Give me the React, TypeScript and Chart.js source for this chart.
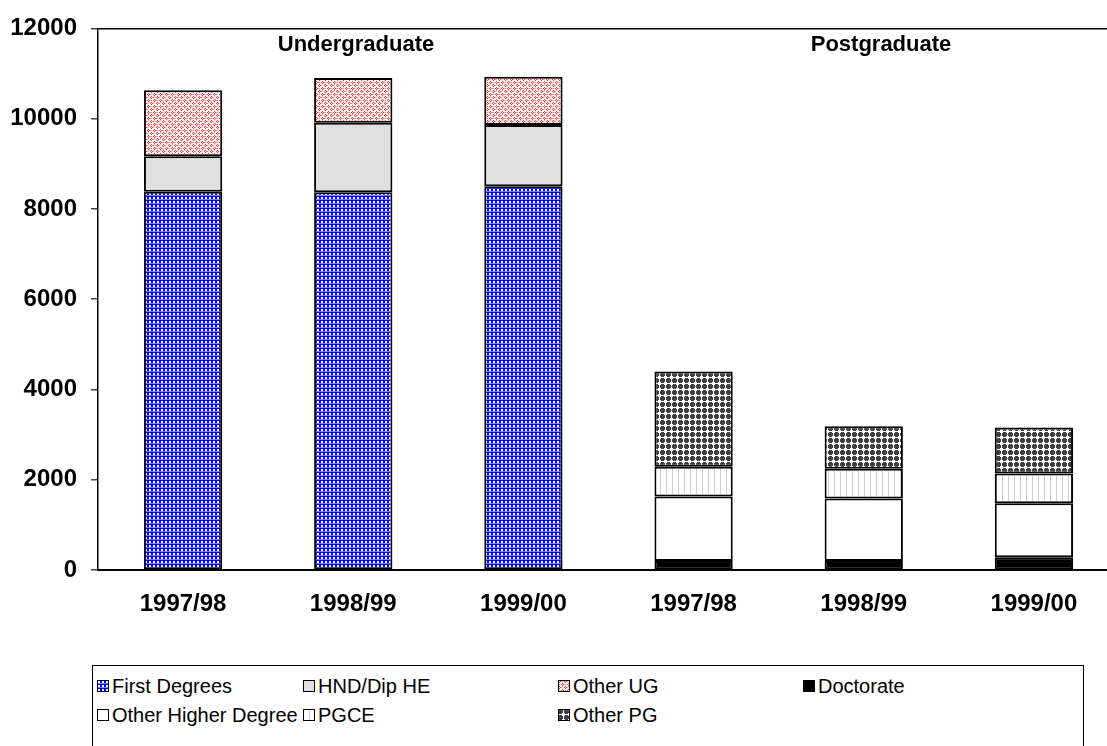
import React, { useEffect, useRef } from "react";
import { Chart, registerables } from "chart.js";
Chart.register(...registerables);

const categories = ["1997/98", "1998/99", "1999/00", "1997/98", "1998/99", "1999/00"];
const firstDegrees = [8380, 8370, 8500, null, null, null];
const hndDipHE = [790, 1540, 1360, null, null, null];
const otherUG = [1460, 990, 1070, null, null, null];
const doctorate = [null, null, null, 200, 200, 285];
const otherHigherDegree = [null, null, null, 1430, 1385, 1195];
const pgce = [null, null, null, 660, 660, 660];
const otherPG = [null, null, null, 2110, 940, 1020];
const yMin = 0;
const yMax = 12000;
const yStep = 2000;
const groupHeadings = ["Undergraduate", "Postgraduate"];
const legendNames = ["First Degrees", "HND/Dip HE", "Other UG", "Doctorate", "Other Higher Degree", "PGCE", "Other PG"];

const FONT = '"Liberation Sans", Arial, Helvetica, sans-serif';

function makeTile(w: number, h: number, draw: (c: CanvasRenderingContext2D) => void): HTMLCanvasElement {
  const c = document.createElement("canvas");
  c.width = w;
  c.height = h;
  const ctx = c.getContext("2d")!;
  draw(ctx);
  return c;
}

function buildTiles() {
  const first = makeTile(4, 4, (c) => {
    c.fillStyle = "#0000ff";
    c.fillRect(0, 0, 4, 4);
    c.fillStyle = "#7c7cff";
    c.fillRect(0, 3, 4, 1);
    c.fillStyle = "#ffffff";
    c.fillRect(1, 1, 2, 2);
  });
  const hnd = makeTile(2, 2, (c) => {
    c.fillStyle = "#e0e0e0";
    c.fillRect(0, 0, 2, 2);
  });
  const ug = makeTile(6, 6, (c) => {
    c.fillStyle = "#fff4f4";
    c.fillRect(0, 0, 6, 6);
    c.fillStyle = "#ff3c3c";
    c.fillRect(1, 0, 1, 1);
    c.fillRect(0, 1, 1, 1);
    c.fillRect(2, 1, 1, 1);
    c.fillRect(1, 2, 1, 1);
    c.fillRect(4, 3, 1, 1);
    c.fillRect(3, 4, 1, 1);
    c.fillRect(5, 4, 1, 1);
    c.fillRect(4, 5, 1, 1);
    c.fillStyle = "#ff9c9c";
    c.fillRect(4, 0, 1, 1);
    c.fillRect(1, 4, 1, 1);
    c.fillRect(3, 1, 1, 1);
    c.fillRect(0, 4, 1, 1);
  });
  const doc = makeTile(2, 2, (c) => {
    c.fillStyle = "#000000";
    c.fillRect(0, 0, 2, 2);
  });
  const ohd = makeTile(2, 2, (c) => {
    c.fillStyle = "#ffffff";
    c.fillRect(0, 0, 2, 2);
  });
  const pg = makeTile(6, 6, (c) => {
    c.fillStyle = "#ffffff";
    c.fillRect(0, 0, 6, 6);
    c.fillStyle = "#cfcfcf";
    c.fillRect(0, 0, 1, 6);
  });
  const opg = makeTile(6, 6, (c) => {
    c.fillStyle = "#ffffff";
    c.fillRect(0, 0, 6, 6);
    c.fillStyle = "#404040";
    c.fillRect(0, 1, 5, 3);
    c.fillRect(1, 0, 3, 5);
  });
  return [first, hnd, ug, doc, ohd, pg, opg];
}

function Swatch({ tile }: { tile: number }) {
  const ref = useRef<HTMLCanvasElement | null>(null);
  useEffect(() => {
    const cv = ref.current;
    if (!cv) return;
    const ctx = cv.getContext("2d")!;
    const tiles = buildTiles();
    const p = ctx.createPattern(tiles[tile], "repeat");
    ctx.fillStyle = p as any;
    ctx.fillRect(0, 0, 12, 12);
    ctx.strokeStyle = "#000";
    ctx.lineWidth = 1;
    ctx.strokeRect(0.5, 0.5, 11, 11);
  }, [tile]);
  return <canvas ref={ref} width={12} height={12} style={{ display: "block" }} />;
}

export default function App() {
  const canvasRef = useRef<HTMLCanvasElement | null>(null);

  useEffect(() => {
    const cv = canvasRef.current;
    if (!cv) return;
    const ctx = cv.getContext("2d")!;
    const tiles = buildTiles();
    const pats = tiles.map((t) => ctx.createPattern(t, "repeat"));
    const series = [firstDegrees, hndDipHE, otherUG, doctorate, otherHigherDegree, pgce, otherPG];
    const chart = new Chart(cv, {
      type: "bar",
      data: {
        labels: categories,
        datasets: series.map((d, i) => ({
          label: legendNames[i],
          data: d,
          backgroundColor: pats[i] as any,
          borderColor: "#000000",
          borderWidth: 2,
          borderSkipped: false,
          stack: "s",
          barPercentage: 0.46,
          categoryPercentage: 1,
        })),
      },
      options: {
        responsive: false,
        animation: false,
        devicePixelRatio: 1,
        layout: { padding: { left: 0, top: 25, right: 1, bottom: 0 } },
        plugins: { legend: { display: false }, tooltip: { enabled: false }, title: { display: false } },
        scales: {
          x: {
            stacked: true,
            grid: { display: true, drawOnChartArea: false, drawTicks: false, color: "rgba(0,0,0,0)" },
            border: { display: true, color: "#000", width: 2 },
            ticks: { color: "#000", padding: 20, font: { family: FONT, size: 24, weight: "bold" }, maxRotation: 0, autoSkip: false },
            afterFit: (s: any) => {
              s.height = 70;
            },
          },
          y: {
            stacked: true,
            min: yMin,
            max: yMax,
            grid: {
              display: true,
              drawOnChartArea: true,
              drawTicks: true,
              tickLength: 7,
              lineWidth: 1.5,
              color: (c: any) => (c.tick && c.tick.value === yMax ? "#000" : "rgba(0,0,0,0)"),
              tickColor: "#444",
            },
            border: { display: true, color: "#000", width: 1.5 },
            ticks: {
              stepSize: yStep,
              color: "#000",
              padding: 14,
              font: { family: FONT, size: 24, weight: "bold" },
              callback: (v: any) => String(v),
            },
            afterFit: (s: any) => {
              s.width = 98;
            },
          },
        },
      },
    });
    return () => chart.destroy();
  }, []);

  const legendItems = [
    { name: legendNames[0], tile: 0, x: 97, y: 686 },
    { name: legendNames[1], tile: 1, x: 303, y: 686 },
    { name: legendNames[2], tile: 2, x: 558, y: 686 },
    { name: legendNames[3], tile: 3, x: 803, y: 686 },
    { name: legendNames[4], tile: 4, x: 97, y: 715 },
    { name: legendNames[5], tile: 5, x: 303, y: 715 },
    { name: legendNames[6], tile: 6, x: 558, y: 715 },
  ];

  return (
    <div style={{ position: "absolute", left: 0, top: 0, width: 1107, height: 746, overflow: "hidden", background: "#fff", fontFamily: FONT }}>
      <canvas ref={canvasRef} width={1120} height={640} style={{ position: "absolute", left: 0, top: 0, width: 1120, height: 640 }} />
      <div style={{ position: "absolute", left: 256, top: 31, width: 200, textAlign: "center", fontWeight: "bold", fontSize: 22, lineHeight: "26px" }}>{groupHeadings[0]}</div>
      <div style={{ position: "absolute", left: 781, top: 31, width: 200, textAlign: "center", fontWeight: "bold", fontSize: 22, lineHeight: "26px" }}>{groupHeadings[1]}</div>
      <div style={{ position: "absolute", left: 92, top: 665, width: 990, height: 120, border: "1.5px solid #000" }} />
      {legendItems.map((it, i) => (
        <div key={i} style={{ position: "absolute", left: it.x, top: it.y - 12, height: 24, display: "flex", alignItems: "center", whiteSpace: "nowrap" }}>
          <Swatch tile={it.tile} />
          <span style={{ marginLeft: 3, fontSize: 20, lineHeight: "24px", color: "#000" }}>{it.name}</span>
        </div>
      ))}
    </div>
  );
}
